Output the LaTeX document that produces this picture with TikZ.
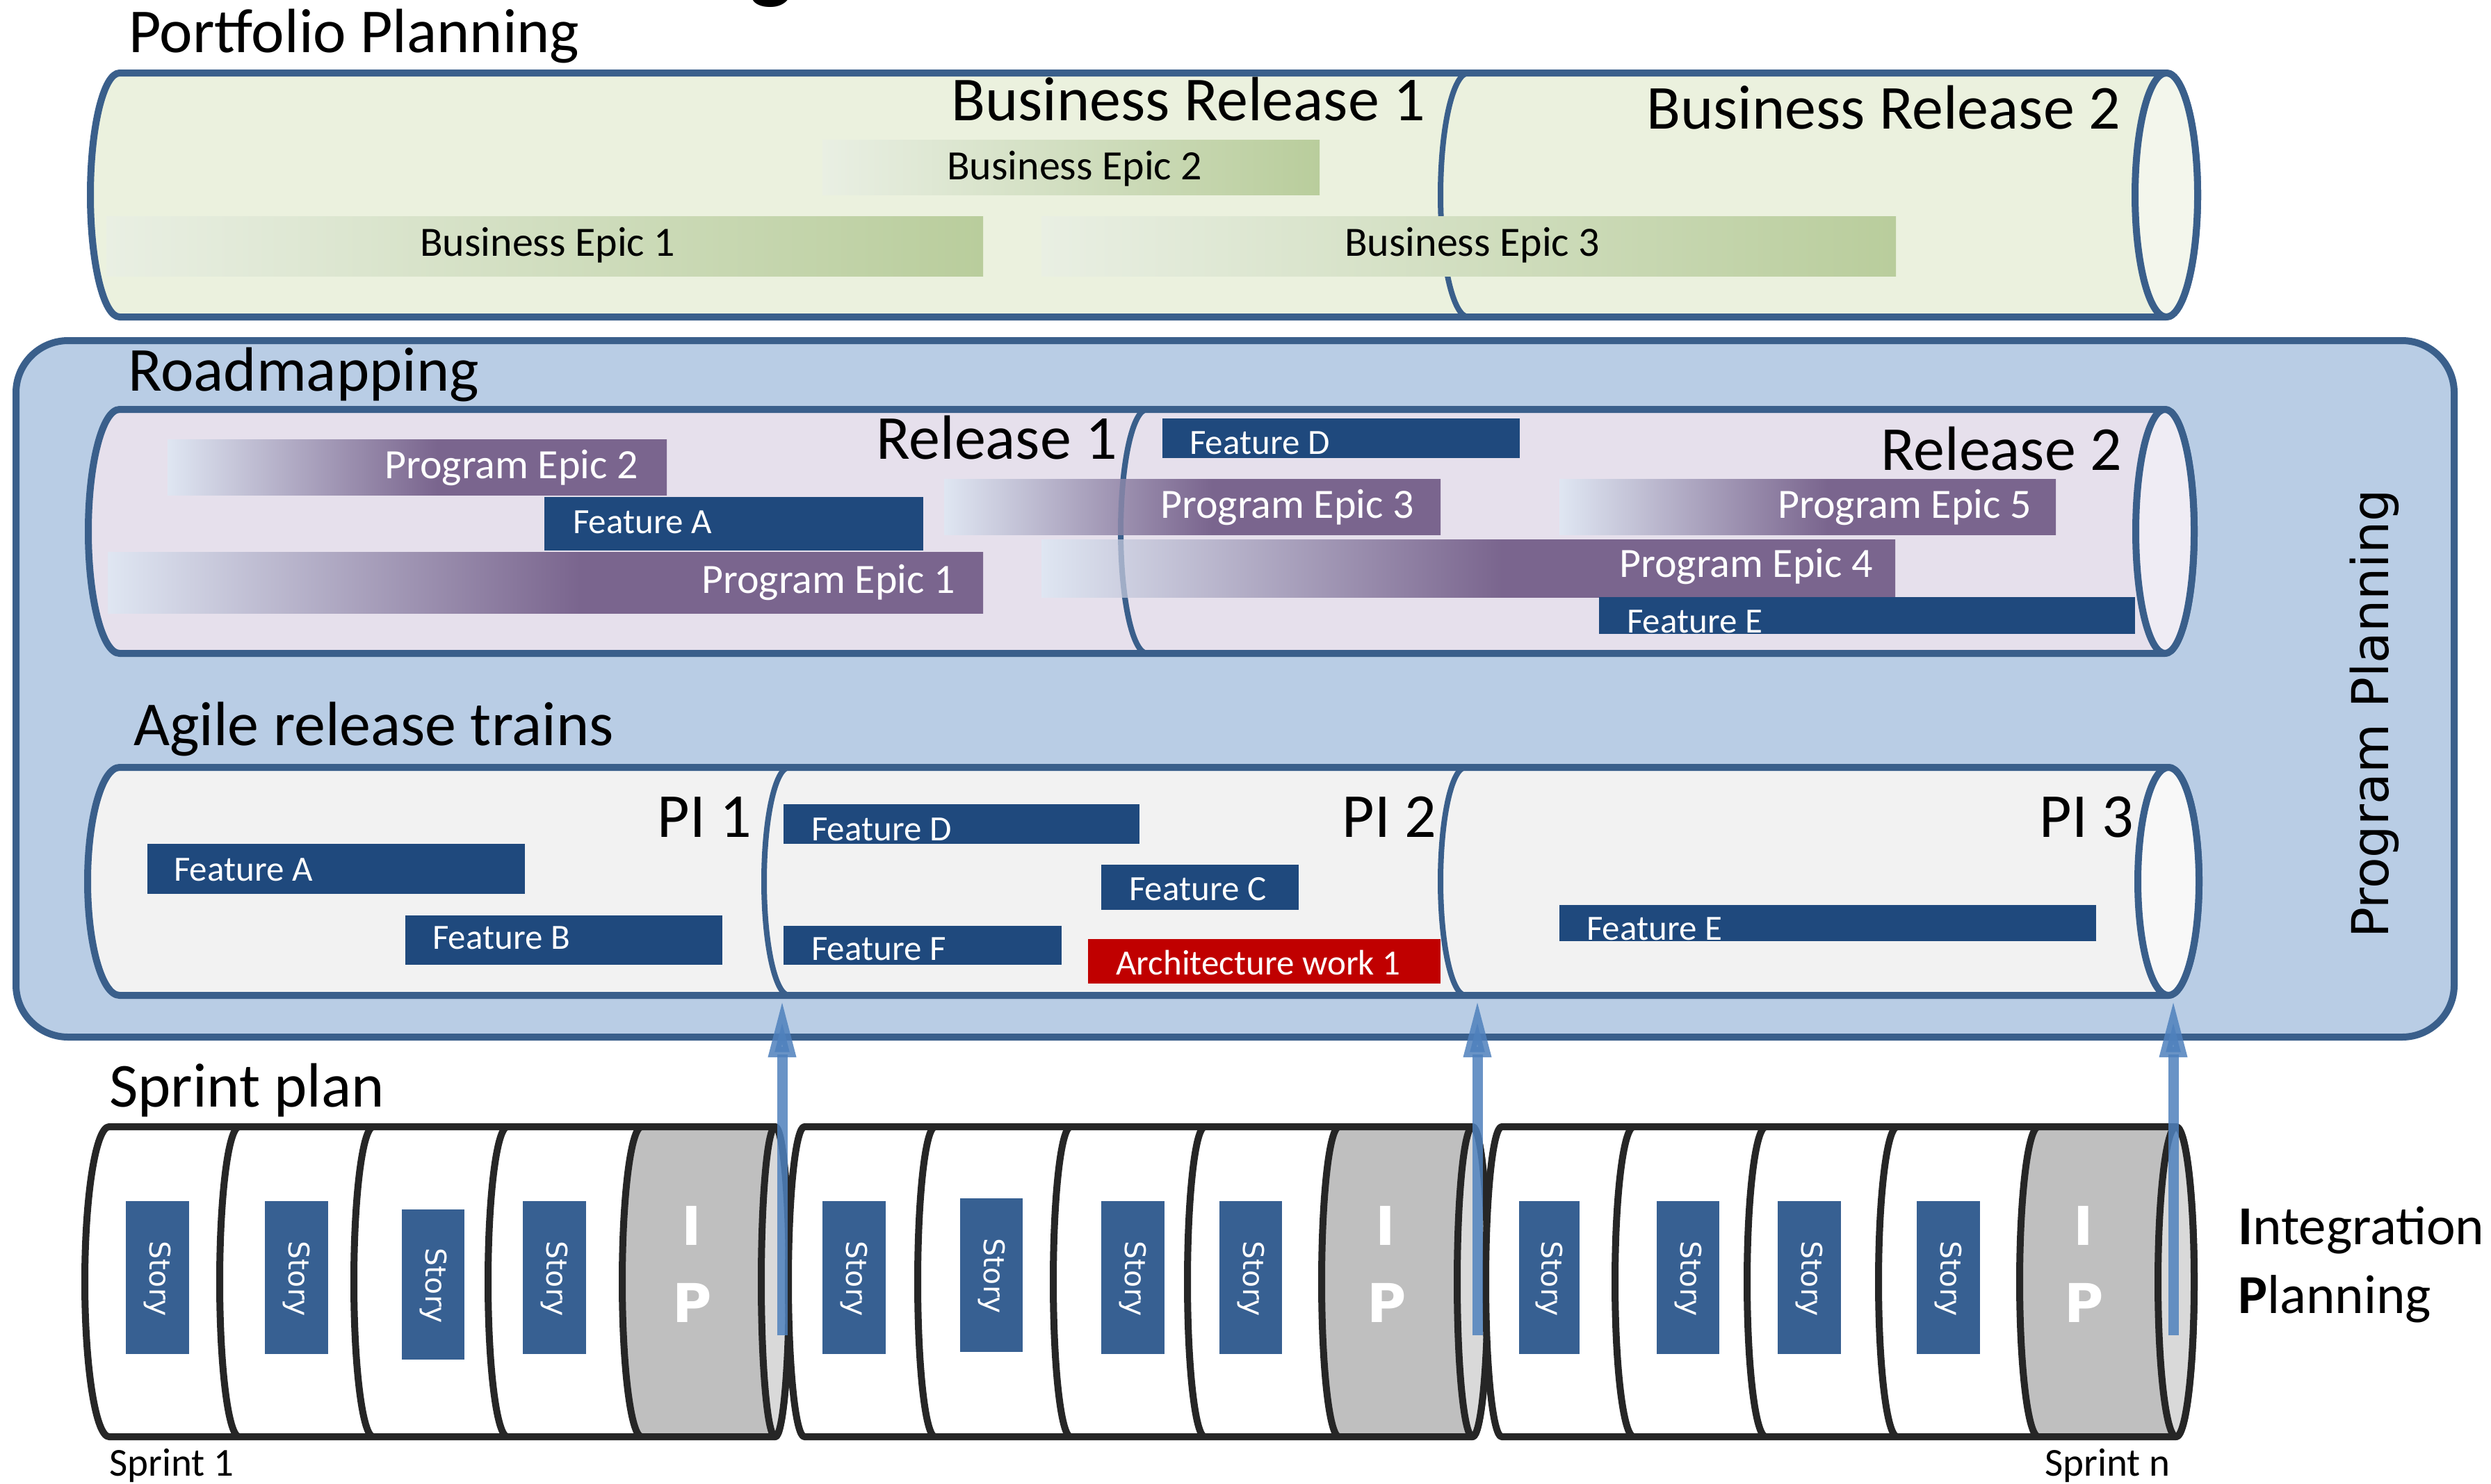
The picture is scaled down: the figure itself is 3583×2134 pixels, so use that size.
\documentclass[tikz,border=0pt]{standalone}
\usepackage{fontspec}
\setmainfont{Carlito}
\newfontfamily\vfont{DejaVu Sans}
\usetikzlibrary{arrows.meta}

\definecolor{edge}{HTML}{3A5F8B}
\definecolor{pfFill}{HTML}{EBF1DE}
\definecolor{pfFace}{HTML}{F3F6EC}
\definecolor{gL}{HTML}{E9EFE3}
\definecolor{gD}{HTML}{B9CD9C}
\definecolor{boxFill}{HTML}{B9CDE5}
\definecolor{rlFill}{HTML}{E6E0EC}
\definecolor{rlFace}{HTML}{EFECF4}
\definecolor{pL}{HTML}{DFE6F2}
\definecolor{pD}{HTML}{7A658E}
\definecolor{feat}{HTML}{1F497D}
\definecolor{arch}{HTML}{C00000}
\definecolor{piFill}{HTML}{F2F2F2}
\definecolor{piFace}{HTML}{F8F8F8}
\definecolor{story}{HTML}{376092}
\definecolor{ipGray}{HTML}{BFBFBF}
\definecolor{ipFace}{HTML}{D9D9D9}
\definecolor{spEdge}{HTML}{262626}
\definecolor{arrowBlue}{HTML}{4F81BD}

\pgfdeclarehorizontalshading{purpbar}{100bp}{color(0bp)=(pL); color(25bp)=(pL); color(52bp)=(pD); color(100bp)=(pD)}

% half ellipse from current point (#1,#2) to (#1,#3), bulging by #4 (negative = left)
\newcommand\cylarc[4]{.. controls ({#1+0.5523*(#4)},#2) and ({#1+(#4)},{#2+0.22385*((#3)-(#2))}) .. ({#1+(#4)},{0.5*((#2)+(#3))}) .. controls ({#1+(#4)},{#3-0.22385*((#3)-(#2))}) and ({#1+0.5523*(#4)},#3) .. (#1,#3)}

\tikzset{
  cyledge/.style={draw=edge, line width=10pt},
  divider/.style={draw=edge, line width=8pt},
  spline/.style={draw=spEdge, line width=10pt},
  lbl/.style={inner sep=0pt, anchor=base west, font=\fontsize{90}{90}\selectfont},
  lble/.style={lbl, anchor=base east},
  bepic/.style={inner sep=0pt, anchor=base west, font=\fontsize{60}{60}\selectfont},
  pepic/.style={inner sep=0pt, anchor=base east, text=white, font=\fontsize{60}{60}\selectfont},
  feattxt/.style={inner sep=0pt, anchor=base west, text=white, font=\fontsize{51}{51}\selectfont},
  storytxt/.style={inner sep=0pt, text=white, rotate=-90, font=\vfont\fontsize{41}{41}\selectfont},
  iptxt/.style={inner sep=0pt, anchor=base, text=white, font=\vfont\bfseries\fontsize{77}{77}\selectfont},
  sprlbl/.style={inner sep=0pt, anchor=base west, font=\fontsize{57}{57}\selectfont},
  intlbl/.style={inner sep=0pt, anchor=base west, font=\fontsize{79}{79}\selectfont},
  pbar/.style={shade, shading=purpbar},
  gbar/.style={left color=gL, right color=gD},
  fbar/.style={fill=feat},
  sbox/.style={fill=story},
  upar/.style={draw=arrowBlue, line width=15pt, opacity=0.85, -{Triangle[length=85pt,width=36pt]}},
}

% #1 left x, #2 left rx, #3-#6 dividers, #7 divider rx, #8 end x, #9 end rx
\newcommand\sprintgroup[9]{%
  \path[fill=white] (#1,1621) -- (#8,1621) \cylarc{#8}{1621}{2067}{#9} -- (#1,2067) \cylarc{#1}{2067}{1621}{-#2} -- cycle;
  \path[fill=ipGray] (#6,1621) -- (#8,1621) \cylarc{#8}{1621}{2067}{#9} -- (#6,2067) \cylarc{#6}{2067}{1621}{-#7} -- cycle;
  \path[spline] (#1,1621) -- (#8,1621) \cylarc{#8}{1621}{2067}{#9} -- (#1,2067) \cylarc{#1}{2067}{1621}{-#2} -- cycle;
  \foreach \xd in {#3,#4,#5,#6} {\path[spline] (\xd,1621) \cylarc{\xd}{1621}{2067}{-#7};}
  \path[fill=ipFace, spline] (#8,1844) ellipse [x radius=#9pt, y radius=223pt];
}

\begin{document}
\begin{tikzpicture}[x=1pt, y=-1pt, line join=round]
\useasboundingbox (0,0) rectangle (3583,2134);
\fill[white] (0,0) rectangle (3583,2134);

% clipped title glyph at the very top
\node[inner sep=0pt, anchor=base west, font=\bfseries\fontsize{130}{130}\selectfont] (ttl) at (1078,-12) {g};

% ===== Portfolio planning =====
\node[lbl] (pfp) at (185,75) {Portfolio Planning};
\path[fill=pfFill, cyledge] (172,105) -- (3116,105) \cylarc{3116}{105}{456}{45} -- (172,456) \cylarc{172}{456}{105}{-42} -- cycle;
\path[divider] (2112,105) \cylarc{2112}{105}{456}{-40};
\path[fill=pfFace, cyledge] (3116,280.5) ellipse [x radius=45pt, y radius=175.5pt];
\path[gbar] (1183,201) rectangle (1898,280);
\path[gbar] (153,311) rectangle (1414,397);
\path[gbar] (1498,311) rectangle (2727,397);
\node[lble] (br1) at (2050,173) {Business Release 1};
\node[lble] (br2) at (3050,185) {Business Release 2};
\node[bepic] (be2) at (1362,258) {Business Epic 2};
\node[bepic] (be1) at (604,368) {Business Epic 1};
\node[bepic] (be3) at (1934,368) {Business Epic 3};

% ===== Program planning box =====
\path[fill=boxFill, cyledge, rounded corners=75pt] (23,490) rectangle (3530,1492);
\node[lbl] (road) at (184,562) {Roadmapping};
\node[inner sep=0pt, anchor=base, rotate=90, font=\vfont\fontsize{73}{73}\selectfont] (pp) at (3435,1027) {Program Planning};

% Release cylinder
\path[fill=rlFill, cyledge] (172,589) -- (3114,589) \cylarc{3114}{589}{940}{42} -- (172,940) \cylarc{172}{940}{589}{-45} -- cycle;
\path[divider] (1650,589) \cylarc{1650}{589}{940}{-38};
\path[fill=rlFace, cyledge] (3114,764.5) ellipse [x radius=42pt, y radius=175.5pt];
\path[pbar] (241,632) rectangle (959,712);
\path[pbar] (155,794) rectangle (1414,882);
\path[pbar] (1358,689) rectangle (2072,769);
\path[pbar] (2243,689) rectangle (2957,769);
\path[pbar] (1498,776) rectangle (2726,859);
\path[divider, draw opacity=0.3] (1650,589) \cylarc{1650}{589}{940}{-38};
\path[fbar] (783,715) rectangle (1328,792);
\path[fbar] (1672,602) rectangle (2186,659);
\path[fbar] (2300,859) rectangle (3071,912);
\node[lble] (rel1) at (1607,660) {Release 1};
\node[lble] (rel2) at (3052,676) {Release 2};
\node[pepic] (pe2) at (918,688) {Program Epic 2};
\node[pepic] (pe1) at (1374,853) {Program Epic 1};
\node[pepic] (pe3) at (2034,745) {Program Epic 3};
\node[pepic] (pe5) at (2922,745) {Program Epic 5};
\node[pepic] (pe4) at (2694,830) {Program Epic 4};
\node[feattxt] (rfa) at (824,767) {Feature A};
\node[feattxt] (rfd) at (1711,653) {Feature D};
\node[feattxt] (rfe) at (2340,910) {Feature E};

% Agile release trains
\node[lbl] (art) at (192,1072) {Agile release trains};
\path[fill=piFill, cyledge] (172,1104) -- (3119,1104) \cylarc{3119}{1104}{1432}{44} -- (172,1432) \cylarc{172}{1432}{1104}{-46} -- cycle;
\path[divider] (1135,1104) \cylarc{1135}{1104}{1432}{-36};
\path[divider] (2108,1104) \cylarc{2108}{1104}{1432}{-36};
\path[fill=piFace, cyledge] (3119,1268) ellipse [x radius=44pt, y radius=164pt];
\node[lble] (pi1) at (1081,1204) {PI 1};
\node[lble] (pi2) at (2066,1204) {PI 2};
\node[lble] (pi3) at (3069,1204) {PI 3};
\path[fbar] (212,1214) rectangle (755,1286);
\path[fbar] (583,1317) rectangle (1039,1388);
\path[fbar] (1127,1157) rectangle (1639,1214);
\path[fbar] (1127,1332) rectangle (1527,1388);
\path[fbar] (1584,1244) rectangle (1868,1309);
\path[fill=arch] (1565,1351) rectangle (2072,1415);
\path[fbar] (2243,1302) rectangle (3015,1354);
\node[feattxt] (afa) at (250,1267) {Feature A};
\node[feattxt] (afb) at (622,1365) {Feature B};
\node[feattxt] (afd) at (1167,1209) {Feature D};
\node[feattxt] (aff) at (1167,1381) {Feature F};
\node[feattxt] (afc) at (1624,1295) {Feature C};
\node[feattxt] (aaw) at (1605,1402) {Architecture work 1};
\node[feattxt] (afe) at (2282,1352) {Feature E};

% ===== Sprint plan =====
\node[lbl] (spl) at (157,1592) {Sprint plan};
\sprintgroup{157}{35}{344}{537}{730}{923}{28}{1115}{20}
\sprintgroup{1157}{23}{1345}{1540}{1733}{1926}{25}{2118}{22}
\sprintgroup{2160}{23}{2350}{2540}{2729}{2932}{27}{3130}{26}

% story boxes
\path[sbox] (181,1728) rectangle (272,1948);
\path[sbox] (381,1728) rectangle (472,1948);
\path[sbox] (578,1740) rectangle (668,1956);
\path[sbox] (752,1728) rectangle (843,1948);
\path[sbox] (1183,1728) rectangle (1274,1948);
\path[sbox] (1381,1724) rectangle (1471,1945);
\path[sbox] (1584,1728) rectangle (1675,1948);
\path[sbox] (1754,1728) rectangle (1844,1948);
\path[sbox] (2185,1728) rectangle (2272,1948);
\path[sbox] (2383,1728) rectangle (2473,1948);
\path[sbox] (2557,1728) rectangle (2648,1948);
\path[sbox] (2757,1728) rectangle (2848,1948);
\node[storytxt] (st1) at (226.5,1840) {Story};
\node[storytxt] (st2) at (426.5,1840) {Story};
\node[storytxt] (st3) at (623,1850) {Story};
\node[storytxt] (st4) at (797.5,1840) {Story};
\node[storytxt] (st5) at (1228.5,1840) {Story};
\node[storytxt] (st6) at (1426,1836) {Story};
\node[storytxt] (st7) at (1629.5,1840) {Story};
\node[storytxt] (st8) at (1799,1840) {Story};
\node[storytxt] (st9) at (2228.5,1840) {Story};
\node[storytxt] (st10) at (2428,1840) {Story};
\node[storytxt] (st11) at (2602.5,1840) {Story};
\node[storytxt] (st12) at (2802.5,1840) {Story};

% IP labels
\node[iptxt] (ip1i) at (995,1791) {I};
\node[iptxt] (ip1p) at (996,1902) {P};
\node[iptxt] (ip2i) at (1993,1791) {I};
\node[iptxt] (ip2p) at (1995,1902) {P};
\node[iptxt] (ip3i) at (2997,1791) {I};
\node[iptxt] (ip3p) at (2998,1902) {P};

\node[sprlbl] (sp1) at (157,2123) {Sprint 1};
\node[sprlbl] (spn) at (2941,2123) {Sprint n};
\node[intlbl] (intg) at (3219,1790) {\textbf{I}ntegration};
\node[intlbl] (plng) at (3219,1889) {\textbf{P}lanning};

% arrows from sprint plan to PIs
\coordinate (a1s) at (1125,1921); \coordinate (a1t) at (1125,1436);
\coordinate (a2s) at (2125,1921); \coordinate (a2t) at (2125,1436);
\coordinate (a3s) at (3126,1921); \coordinate (a3t) at (3126,1436);
\draw[upar] (a1s) -- (a1t);
\draw[upar] (a2s) -- (a2t);
\draw[upar] (a3s) -- (a3t);
\end{tikzpicture}
\end{document}
